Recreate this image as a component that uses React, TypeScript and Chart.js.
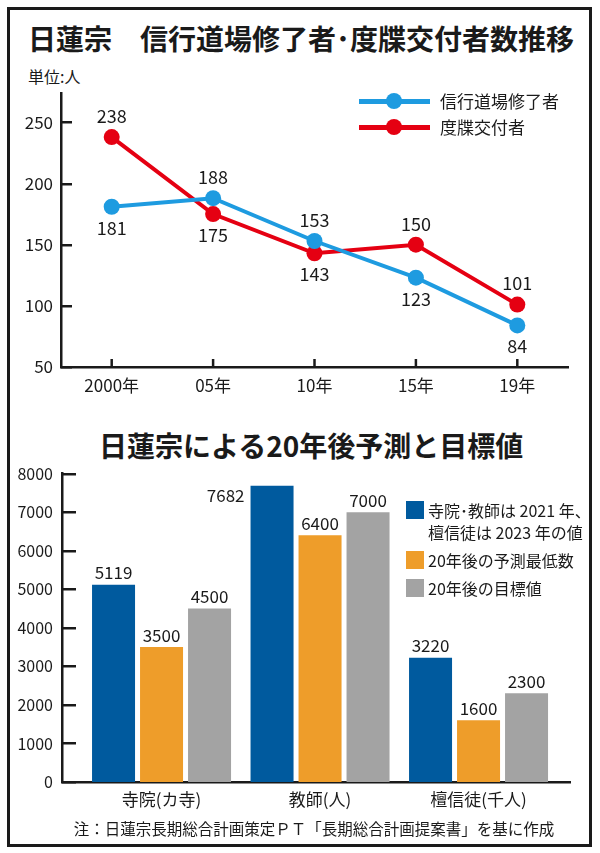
import React, { useEffect, useRef } from 'react';
import { Chart, registerables } from 'chart.js';

Chart.register(...registerables);

const FONT = "'Noto Sans CJK JP', 'Noto Sans', sans-serif";
const INK = '#1a1a1a';

// ---- Chart 1: line chart data ----
const TITLE1 = '日蓮宗　信行道場修了者･度牒交付者数推移';
const UNIT1 = '単位:人';
const YEARS = ['2000年', '05年', '10年', '15年', '19年'];
const SERIES_A_NAME = '信行道場修了者';
const SERIES_B_NAME = '度牒交付者';
const SERIES_A = [181, 188, 153, 123, 84];
const SERIES_B = [238, 175, 143, 150, 101];
const LINE_Y_TICKS = [50, 100, 150, 200, 250];
const COLOR_A = '#1e9be0';
const COLOR_B = '#e50012';

// ---- Chart 2: bar chart data ----
const TITLE2 = '日蓮宗による20年後予測と目標値';
const CATEGORIES = ['寺院(カ寺)', '教師(人)', '檀信徒(千人)'];
const CURRENT = [5119, 7682, 3220];
const FORECAST_MIN = [3500, 6400, 1600];
const TARGET = [4500, 7000, 2300];
const BAR_Y_TICKS = [0, 1000, 2000, 3000, 4000, 5000, 6000, 7000, 8000];
const BAR_LEGEND = [
  ['寺院･教師は 2021 年、', '檀信徒は 2023 年の値'],
  ['20年後の予測最低数'],
  ['20年後の目標値'],
];
const BAR_COLORS = ['#005a9e', '#ee9d2a', '#a3a3a3'];
const NOTE = '注：日蓮宗長期総合計画策定ＰＴ「長期総合計画提案書」を基に作成';

const inwardTicks = {
  id: 'inwardTicks',
  afterDraw(chart: any, _args: any, opts: any) {
    const ctx = chart.ctx;
    const area = chart.chartArea;
    ctx.save();
    ctx.strokeStyle = INK;
    ctx.lineWidth = 2.5;
    const ys = chart.scales.y;
    ys.ticks.forEach((t: any) => {
      const py = Math.round(ys.getPixelForValue(t.value)) + 0.25;
      ctx.beginPath();
      ctx.moveTo(area.left, py);
      ctx.lineTo(area.left + opts.yLen, py);
      ctx.stroke();
    });
    if (opts.xLen) {
      const xs = chart.scales.x;
      xs.ticks.forEach((_t: any, i: number) => {
        const px = xs.getPixelForTick(i);
        ctx.beginPath();
        ctx.moveTo(px, area.bottom);
        ctx.lineTo(px, area.bottom - opts.xLen);
        ctx.stroke();
      });
    }
    ctx.restore();
  },
};

const lineLabels = {
  id: 'lineLabels',
  afterDatasetsDraw(chart: any) {
    const ctx = chart.ctx;
    ctx.save();
    ctx.font = `18px ${FONT}`;
    ctx.fillStyle = INK;
    ctx.textAlign = 'center';
    ctx.textBaseline = 'middle';
    const sets = chart.data.datasets;
    sets.forEach((ds: any, di: number) => {
      const other = sets[1 - di];
      const meta = chart.getDatasetMeta(di);
      meta.data.forEach((pt: any, i: number) => {
        const v = ds.data[i];
        const above = v > other.data[i];
        ctx.fillText(String(v), pt.x, pt.y + (above ? -21 : 21));
      });
    });
    ctx.restore();
  },
};

const barLabels = {
  id: 'barLabels',
  afterDatasetsDraw(chart: any) {
    const ctx = chart.ctx;
    const area = chart.chartArea;
    ctx.save();
    ctx.font = `17px ${FONT}`;
    ctx.fillStyle = INK;
    ctx.textBaseline = 'middle';
    chart.data.datasets.forEach((ds: any, di: number) => {
      const meta = chart.getDatasetMeta(di);
      meta.data.forEach((bar: any, i: number) => {
        const v = ds.data[i].y;
        const { x, y, width } = bar.getProps(['x', 'y', 'width'], true);
        if (y - 20 < area.top) {
          ctx.textAlign = 'right';
          ctx.fillText(String(v), x - width / 2 - 6, y + 10);
        } else {
          ctx.textAlign = 'center';
          ctx.fillText(String(v), x, y - 12);
        }
      });
    });
    ctx.restore();
  },
};

function LineChart() {
  const ref = useRef<HTMLCanvasElement>(null);
  useEffect(() => {
    const chart = new Chart(ref.current as HTMLCanvasElement, {
      type: 'line',
      data: {
        labels: YEARS,
        datasets: [
          { label: SERIES_A_NAME, data: SERIES_A, borderColor: COLOR_A, backgroundColor: COLOR_A, pointBackgroundColor: COLOR_A, borderWidth: 4, pointRadius: 8, pointBorderWidth: 0, tension: 0 },
          { label: SERIES_B_NAME, data: SERIES_B, borderColor: COLOR_B, backgroundColor: COLOR_B, pointBackgroundColor: COLOR_B, borderWidth: 4, pointRadius: 8, pointBorderWidth: 0, tension: 0 },
        ],
      },
      options: {
        animation: false,
        responsive: false,
        layout: { padding: { left: 0, right: 32, top: 33, bottom: 13 } },
        plugins: { legend: { display: false }, tooltip: { enabled: false }, inwardTicks: { yLen: 11, xLen: 8 } } as any,
        scales: {
          x: {
            type: 'category',
            offset: true,
            grid: { display: false, drawTicks: false, tickLength: 0 },
            border: { display: true, color: INK, width: 2.5 },
            ticks: { color: INK, font: { family: FONT, size: 17 }, padding: 8, maxRotation: 0, autoSkip: false },
            afterFit: (s: any) => { s.height = 30; },
          },
          y: {
            type: 'linear',
            min: 50,
            max: 274,
            afterBuildTicks: (s: any) => { s.ticks = LINE_Y_TICKS.map((v) => ({ value: v })); },
            grid: { display: false, drawTicks: false, tickLength: 0 },
            border: { display: true, color: INK, width: 2.5 },
            ticks: { color: INK, font: { family: FONT, size: 17 }, padding: 8 },
            afterFit: (s: any) => { s.width = 61; },
          },
        },
      },
      plugins: [inwardTicks, lineLabels],
    });
    return () => chart.destroy();
  }, []);
  return <canvas ref={ref} width={600} height={350} style={{ position: 'absolute', left: 0, top: 60, width: 600, height: 350 }} />;
}

function BarChart() {
  const ref = useRef<HTMLCanvasElement>(null);
  useEffect(() => {
    const series = [CURRENT, FORECAST_MIN, TARGET];
    const chart = new Chart(ref.current as HTMLCanvasElement, {
      type: 'bar',
      data: {
        datasets: series.map((vals, si) => ({
          label: BAR_LEGEND[si].join(''),
          data: vals.map((v, i) => ({ x: i, y: v })),
          backgroundColor: BAR_COLORS[si],
          borderWidth: 0,
          categoryPercentage: 0.9085,
          barPercentage: 0.896,
        })),
      },
      options: {
        animation: false,
        responsive: false,
        layout: { padding: { left: 0, right: 30, top: 15, bottom: 10 } },
        plugins: { legend: { display: false }, tooltip: { enabled: false }, inwardTicks: { yLen: 14, xLen: 0 } } as any,
        scales: {
          x: {
            type: 'linear',
            offset: false,
            min: -0.628,
            max: 2.577,
            afterBuildTicks: (s: any) => { s.ticks = CATEGORIES.map((_c, i) => ({ value: i })); },
            grid: { display: false, drawTicks: false, tickLength: 0 },
            border: { display: true, color: INK, width: 2.5 },
            ticks: { color: INK, font: { family: FONT, size: 17 }, padding: 7, maxRotation: 0, autoSkip: false, callback: (v: any) => CATEGORIES[v] ?? '' },
            afterFit: (s: any) => { s.height = 33; },
          },
          y: {
            type: 'linear',
            min: 0,
            max: 8000,
            afterBuildTicks: (s: any) => { s.ticks = BAR_Y_TICKS.map((v) => ({ value: v })); },
            grid: { display: false, drawTicks: false, tickLength: 0 },
            border: { display: true, color: INK, width: 2.5 },
            ticks: { color: INK, font: { family: FONT, size: 16 }, padding: 9, callback: (v: any) => String(v) },
            afterFit: (s: any) => { s.width = 62; },
          },
        },
      },
      plugins: [inwardTicks, barLabels],
    });
    return () => chart.destroy();
  }, []);
  return <canvas ref={ref} width={600} height={370} style={{ position: 'absolute', left: 0, top: 455, width: 600, height: 370 }} />;
}

const abs = (style: React.CSSProperties): React.CSSProperties => ({ position: 'absolute', fontFamily: FONT, color: INK, whiteSpace: 'nowrap', ...style });

export default function App() {
  return (
    <div style={{ position: 'absolute', left: 0, top: 0, width: 600, height: 853, background: '#fff', overflow: 'hidden' }}>
      <div style={{ position: 'absolute', left: 7, top: 7, width: 585, height: 840, border: `3px solid ${INK}`, boxSizing: 'border-box' }} />
      <div style={abs({ left: 28, top: 24, fontSize: 28, lineHeight: '28px', fontWeight: 700 })}>{TITLE1}</div>
      <div style={abs({ left: 28, top: 67, fontSize: 16, lineHeight: '18px' })}>{UNIT1}</div>
      <LineChart />
      {[SERIES_A_NAME, SERIES_B_NAME].map((name, i) => {
        const color = i === 0 ? COLOR_A : COLOR_B;
        const cy = 101 + i * 26;
        return (
          <React.Fragment key={name}>
            <div style={{ position: 'absolute', left: 359, top: cy - 2.5, width: 71, height: 5, background: color }} />
            <div style={{ position: 'absolute', left: 386, top: cy - 8, width: 16, height: 16, borderRadius: 8, background: color }} />
            <div style={abs({ left: 440, top: cy - 11, fontSize: 17, lineHeight: '22px' })}>{name}</div>
          </React.Fragment>
        );
      })}
      <div style={abs({ left: 99, top: 431, fontSize: 28, lineHeight: '28px', fontWeight: 700 })}>{TITLE2}</div>
      <BarChart />
      {BAR_LEGEND.map((lines, i) => {
        const cy = [510, 560, 588][i];
        return (
          <React.Fragment key={i}>
            <div style={{ position: 'absolute', left: 406, top: cy - 9, width: 18, height: 18, background: BAR_COLORS[i] }} />
            {lines.map((ln, j) => (
              <div key={j} style={abs({ left: 428, top: cy - 11 + j * 22, fontSize: 16, lineHeight: '22px' })}>{ln}</div>
            ))}
          </React.Fragment>
        );
      })}
      <div style={abs({ left: 0, width: 628, textAlign: 'center', top: 818, fontSize: 15.5, lineHeight: '20px' })}>{NOTE}</div>
    </div>
  );
}
